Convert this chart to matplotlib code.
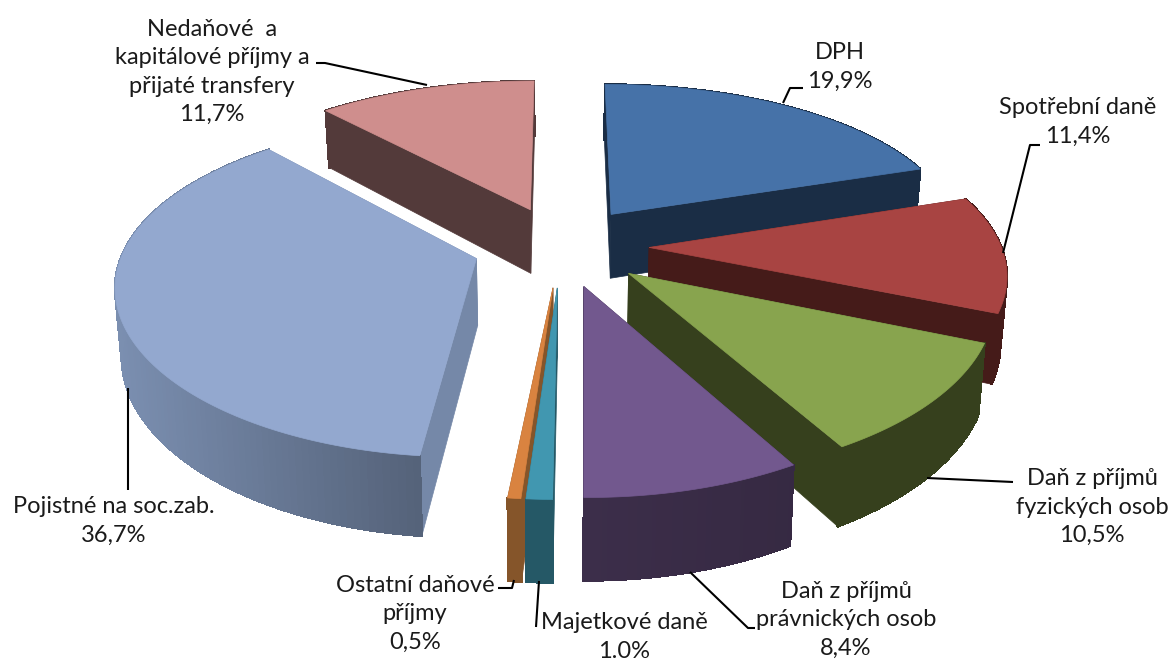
import numpy as np
import matplotlib
matplotlib.use('Agg')
import matplotlib.pyplot as plt
from matplotlib.collections import PolyCollection
from matplotlib.patches import Polygon

# data, clockwise from 12 o'clock
categories = ['DPH', 'Spotřební daně', 'Daň z příjmů\nfyzických osob', 'Daň z příjmů\nprávnických osob',
              'Majetkové daně', 'Ostatní daňové\npříjmy', 'Pojistné na soc.zab.',
              'Nedaňové  a\nkapitálové příjmy a\npřijaté transfery']
values = [19.9, 11.4, 10.5, 8.4, 1.0, 0.5, 36.7, 11.7]
value_labels = ['19,9%', '11,4%', '10,5%', '8,4%', '1.0%', '0,5%', '36,7%', '11,7%']

# styles
top_colors = ['#4672a8', '#a84442', '#88a44e', '#72588e', '#4197b0', '#d98340', '#93a8cf', '#cf8e8d']
wall_colors = ['#1a2d45', '#451b19', '#36401d', '#3c2e4a', '#255866', '#85552a', '#7588a8', '#533a3a']
arc_left = [1.0, 1.0, 1.0, 1.0, 1.0, 1.0, 1.05, 1.0]
arc_right = [1.0, 1.0, 1.0, 0.9, 1.0, 1.0, 0.72, 1.0]

# layout in pixels
label_pos = [(840, 67), (1078, 122), (1092, 507), (846, 620), (624, 637), (415, 614), (114, 521), (212, 72)]
leaders = [[(783, 103), (790, 88), (803, 88)],
           [(1003, 253), (1030, 145), (1040, 145)],
           [(927, 478), (1013, 482)],
           [(690, 572), (748, 628), (755, 628)],
           [(539, 581), (536, 627)],
           [(514, 580), (512, 588), (498, 588)],
           [(128, 388), (128, 490)],
           [(427, 85), (325, 63), (316, 63)]]

cx, cy = 561, 246
rx, ry = 352, 161
explode = 0.25
persp_x = 0.14
persp_y = 0.165
depth = 66
shrink = 0.015  # bottom of the pie is a bit further from the camera


def project(x, y, z=0.0):
    sx = 1 / (1 - persp_x * y)
    sy = 1 / (1 - persp_y * y)
    return cx + rx * x * sx * (1 - shrink * z), cy + ry * y * sy + depth * z * sy


fig = plt.figure(figsize=(11.68, 6.62), dpi=100)
ax = fig.add_axes([0, 0, 1, 1])
ax.set_xlim(0, 1168)
ax.set_ylim(662, 0)
ax.axis('off')

fractions = np.array(values) / np.sum(values)
edges = np.concatenate([[0], np.cumsum(fractions)]) * 2 * np.pi

# painter order, back slices first
order = [0, 1, 2, 3, 7, 6, 5, 4]
for zorder, i in enumerate(order):
    a0, a1 = edges[i], edges[i + 1]
    mid = (a0 + a1) / 2
    ox, oy = explode * np.sin(mid), -explode * np.cos(mid)
    ang = np.linspace(a0, a1, 120)
    wx = ox + np.sin(ang)
    wy = oy - np.cos(ang)

    tx, ty = project(wx, wy)
    bx, by = project(wx, wy, 1.0)
    ax0, ay0 = project(ox, oy)
    bx0, by0 = project(ox, oy, 1.0)

    # two cut faces
    for j in (0, -1):
        ax.add_patch(Polygon([(ax0, ay0), (tx[j], ty[j]), (bx[j], by[j]), (bx0, by0)],
                             closed=True, fc=wall_colors[i], ec=wall_colors[i], lw=0.5, zorder=zorder * 3))

    # outer wall, shaded strip by strip from left to right
    quads = [[(tx[k], ty[k]), (tx[k + 1], ty[k + 1]), (bx[k + 1], by[k + 1]), (bx[k], by[k])]
             for k in range(len(ang) - 1)]
    base = np.array(matplotlib.colors.to_rgb(wall_colors[i]))
    lo, hi = tx.min(), tx.max()
    pos = ((tx[:-1] + tx[1:]) / 2 - lo) / max(hi - lo, 1)
    shade = arc_left[i] + (arc_right[i] - arc_left[i]) * pos
    cols = np.clip(base[None, :] * shade[:, None], 0, 1)
    ax.add_collection(PolyCollection(quads, facecolors=cols, edgecolors=cols, linewidths=1.0,
                                     antialiaseds=False, zorder=zorder * 3 + 1))

    # top face
    ax.add_patch(Polygon(np.column_stack([np.r_[ax0, tx], np.r_[ay0, ty]]), closed=True,
                         fc=top_colors[i], ec=top_colors[i], lw=0.5, zorder=zorder * 3 + 2))

for pts in leaders:
    xs, ys = zip(*pts)
    ax.plot(xs, ys, color='black', lw=1.5, solid_capstyle='butt', zorder=50)

for name, val, pos in zip(categories, value_labels, label_pos):
    ax.text(pos[0], pos[1], name + '\n' + val, ha='center', va='center', multialignment='center',
            fontsize=17, family='Lato', color='#1a1a1a', linespacing=1.42, zorder=60)

fig.savefig('out.png', dpi=100, facecolor='white')
